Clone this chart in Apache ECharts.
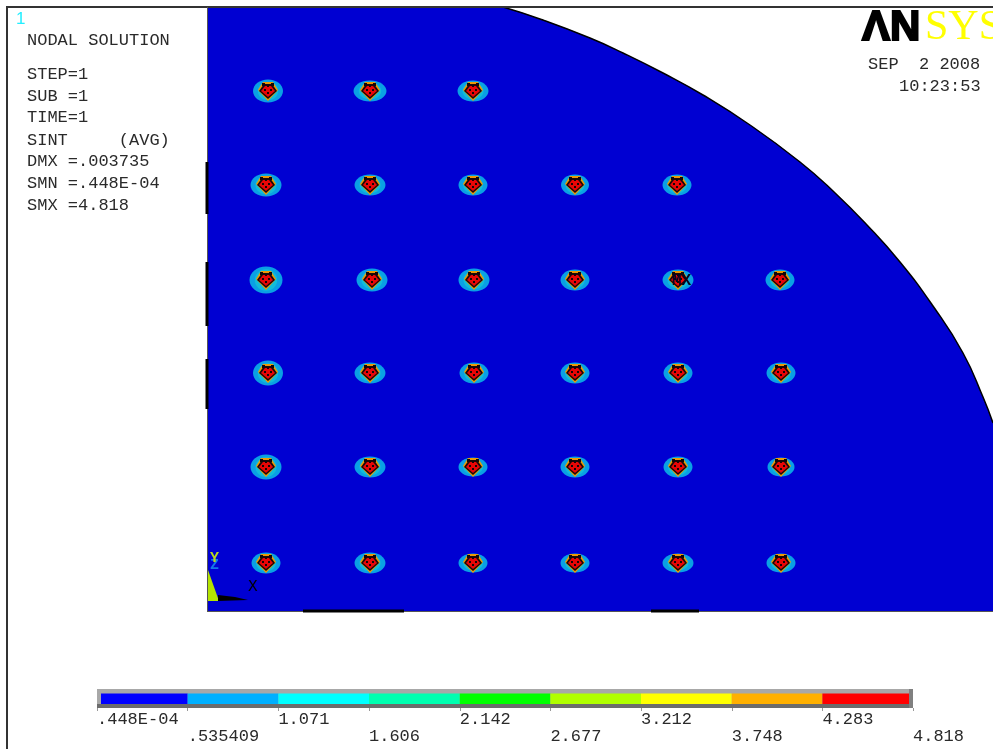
<!DOCTYPE html>
<html><head><meta charset="utf-8">
<style>html,body{margin:0;padding:0;background:#fff}#c{width:993px;height:749px}</style>
<script src="https://cdn.jsdelivr.net/npm/echarts@6/dist/echarts.min.js"></script>
</head><body><div id="c"></div>
<script>
// Model outline (plot units, origin at lower-left of the plot; the first points lie above the cropped top edge)
const arcPoints = [[0,655],[150,638],[230,622],[296,604],[336,591],[383,573],[416,558],[456,538],[496,516],[543,486],[593,449],[626,420],[660,386],[693,349],[726,305],[756,258],[776,214],[786,188]];
const leftEdgeSegments = [[0,449,0,397],[0,349,0,285],[0,252,0,202]];
const bottomEdgeSegments = [[96,0,197,0],[444,0,492,0]];
// Holes: x, y, halo width, halo height
const row1 = [[60,520,30,23],[162,520,33,21],[265,520,31,21]];
const row2 = [[58,426,31,23],[162,426,31,21],[265,426,29,21],[367,426,28,21],[469,426,29,21]];
const row3 = [[58,331,33,27],[164,331,31,23],[266,331,31,23],[367,331,29,21],[470,331,31,21],[572,331,29,21]];
const row4 = [[60,238,30,25],[162,238,31,21],[266,238,29,21],[367,238,29,21],[470,238,29,21],[573,238,29,21]];
const row5 = [[58,144,31,25],[162,144,31,21],[265,144,29,19],[367,144,29,21],[470,144,29,21],[573,144,27,19]];
const row6 = [[58,48,29,21],[162,48,31,21],[265,48,29,19],[367,48,29,19],[470,48,31,19],[573,48,29,19]];
const holes = [...row1,...row2,...row3,...row4,...row5,...row6];
// Contour legend
const levels = [0.0000448,0.535409,1.071,1.606,2.142,2.677,3.212,3.748,4.283,4.818];
const levelLabels = ['.448E-04','.535409','1.071','1.606','2.142','2.677','3.212','3.748','4.283','4.818'];
const levelColors = ['#0000ff','#00b0ff','#00ffff','#00ffb0','#00ff00','#b0ff00','#ffff00','#ffb000','#ff0000'];
const noteLines = ['NODAL SOLUTION','STEP=1','SUB =1','TIME=1','SINT     (AVG)','DMX =.003735','SMN =.448E-04','SMX =4.818'];
const noteY = [40,74,96,117,140,161,183,205];

const MONO = '"Liberation Mono","DejaVu Sans Mono",monospace';
const TXT = '#2a2a2a';
const chart = echarts.init(document.getElementById('c'), null, {renderer:'canvas'});

function renderHole(params,api){
  const p = api.coord([api.value(0),api.value(1)]);
  const w = api.value(2), h = api.value(3), x=p[0]+1, y=p[1];
  const el=(rx,ry,fill)=>({type:'ellipse',shape:{cx:x,cy:y,rx:rx,ry:ry},style:{fill:fill}});
  const poly=(pts,fill)=>({type:'polygon',shape:{points:pts.map(q=>[x+q[0],y+q[1]])},style:{fill:fill}});
  const dot=(dx,dy,s)=>({type:'rect',shape:{x:x+dx,y:y+dy,width:s,height:s},style:{fill:'#140606'}});
  return {type:'group',silent:true,children:[
    el(w/2,h/2,'#0aa0e4'),
    el(w*0.34,h*0.4,'#12bcd8'),
    poly([[-5,-9],[5,-9],[10,-1],[0,10],[-10,-1]],'#ec9a06'),
    poly([[-4,-7],[4,-7],[9,0],[0,8],[-9,0]],'#1c0808'),
    poly([[-3,-5],[3,-5],[7,0],[0,6],[-7,0]],'#e80606'),
    dot(-1,-6,2),dot(-4,-2,2),dot(2,-2,2),dot(-1,1,2),dot(-6,-8,3),dot(3,-8,3)
  ]};
}
function renderSeg(params,api){
  const a=api.coord([api.value(0),api.value(1)]),b=api.coord([api.value(2),api.value(3)]);
  return {type:'line',silent:true,shape:{x1:a[0],y1:a[1],x2:b[0],y2:b[1]},style:{stroke:'#000',lineWidth:3}};
}
function renderBevel(params,api){
  const a=api.coord([0,1]),b=api.coord([4.818,0]);
  const W=b[0]-a[0],H=b[1]-a[1];
  return {type:'group',silent:true,children:[
    {type:'rect',shape:{x:a[0],y:a[1],width:W,height:H},style:{fill:'#a8a8a8'}},
    {type:'rect',shape:{x:a[0],y:b[1]-4,width:W,height:4},style:{fill:'#6c6c6c'}},
    {type:'rect',shape:{x:b[0]-4,y:a[1],width:4,height:H},style:{fill:'#808080'}}
  ]};
}
function renderLevel(params,api){
  const a=api.coord([api.value(0),1]),b=api.coord([api.value(1),0]);
  const i=params.dataIndex;
  const x0=i===0?a[0]+4:a[0], x1=i===levelColors.length-1?b[0]-4:b[0];
  return {type:'rect',silent:true,shape:{x:x0,y:a[1]+4.5,width:x1-x0,height:b[1]-a[1]-8.5},style:{fill:levelColors[i]}};
}
const t=(text,x,y,extra)=>({type:'text',silent:true,x:x,y:y,z:50,style:Object.assign({text:text,fill:TXT,font:'17px '+MONO,verticalAlign:'middle'},extra||{})});

chart.setOption({
  animation:false,
  backgroundColor:'#ffffff',
  grid:[
    {left:207,top:7,width:786,height:604,show:false},
    {left:97,top:689,width:816,height:19,show:false}
  ],
  xAxis:[
    {gridIndex:0,type:'value',min:0,max:786,show:false},
    {gridIndex:1,type:'value',min:0,max:4.818,
      axisLine:{show:false},splitLine:{show:false},
      axisTick:{show:true,length:3,customValues:levels,lineStyle:{color:'#999'}},
      axisLabel:{show:true,customValues:levels,margin:3,align:'left',hideOverlap:false,
        color:TXT,fontFamily:MONO,fontSize:17,lineHeight:17,
        formatter:function(v){const i=levels.indexOf(v);return i%2===0?levelLabels[i]+'\n ':' \n'+levelLabels[i];}}}
  ],
  yAxis:[
    {gridIndex:0,type:'value',min:0,max:604,show:false},
    {gridIndex:1,type:'value',min:0,max:1,show:false}
  ],
  series:[
    {type:'line',xAxisIndex:0,yAxisIndex:0,data:arcPoints,showSymbol:false,smooth:0.5,
      lineStyle:{color:'#000',width:1.5},areaStyle:{color:'#0000d2',opacity:1},itemStyle:{color:'#000'},silent:true,z:1,clip:true},
    {type:'custom',xAxisIndex:0,yAxisIndex:0,data:leftEdgeSegments.concat(bottomEdgeSegments),renderItem:renderSeg,z:60,clip:false},
    {type:'custom',xAxisIndex:0,yAxisIndex:0,data:holes,renderItem:renderHole,z:4,clip:false},
    {type:'custom',xAxisIndex:1,yAxisIndex:1,data:[[0]],encode:{x:0},renderItem:renderBevel,z:2,clip:false},
    {type:'custom',xAxisIndex:1,yAxisIndex:1,
      data:levelColors.map((c,i)=>[levels[i],levels[i+1]]),encode:{x:[0,1]},renderItem:renderLevel,z:3,clip:false}
  ],
  graphic:{elements:[
    // frame
    {type:'rect',silent:true,z:40,shape:{x:6,y:6,width:2,height:743},style:{fill:'#333'}},
    {type:'rect',silent:true,z:40,shape:{x:6,y:6,width:987,height:2},style:{fill:'#333'}},
    {type:'rect',silent:true,z:40,shape:{x:207,y:7,width:1,height:605},style:{fill:'#555'}},
    {type:'rect',silent:true,z:40,shape:{x:207,y:611,width:786,height:1},style:{fill:'#555'}},
    // notes
    t('1',16,19,{fill:'#22eeff',font:'17px "Liberation Sans",sans-serif'}),
    ...noteLines.map((s,i)=>t(s,27,noteY[i])),
    t('SEP  2 2008',868,64),
    t('10:23:53',899,86),
    // logo
    {type:'group',z:45,clipPath:{type:'rect',shape:{x:840,y:8,width:153,height:60}},children:[
      {type:'text',silent:true,x:862,y:28,style:{text:'ΛN',fill:'#000',stroke:'#000',lineWidth:2,font:'bold 42px "Liberation Sans",sans-serif',verticalAlign:'middle'}},
      {type:'text',silent:true,x:925,y:28,style:{text:'SYS',fill:'#ffff00',font:'42px "Liberation Serif",serif',verticalAlign:'middle'}}
    ]},
    // triad
    {type:'polygon',silent:true,z:45,shape:{points:[[208,570],[208,601],[219,601]]},style:{fill:'#b4e400'}},
    {type:'polygon',silent:true,z:45,shape:{points:[[218,595],[235,597],[248,600],[218,601]]},style:{fill:'#000'}},
    t('Z',210,565,{fill:'#1478e8',font:'bold 15px '+MONO}),
    t('Y',210,558,{fill:'#b8d820',font:'bold 15px '+MONO}),
    t('X',248,587,{fill:'#000',font:'16px '+MONO}),
    t('MX',672,281,{fill:'#040420',font:'bold 16px '+MONO})
  ]}
});
</script></body></html>
